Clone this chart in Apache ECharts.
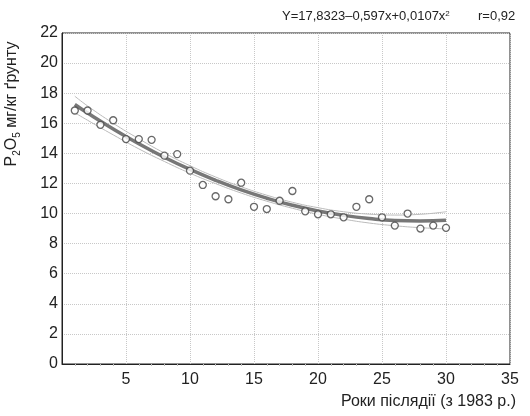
<!DOCTYPE html>
<html><head><meta charset="utf-8">
<script src="https://cdn.jsdelivr.net/npm/echarts@6/dist/echarts.min.js"></script>
<style>html,body{margin:0;padding:0;background:#fff}#c{width:530px;height:416px}</style>
</head><body><div id="c"></div>
<script>
var years = [1,2,3,4,5,6,7,8,9,10,11,12,13,14,15,16,17,18,19,20,21,22,23,24,25,26,27,28,29,30];
var p2o5 = [16.85,16.85,15.9,16.2,14.95,14.95,14.9,13.85,13.95,12.85,11.9,11.15,10.95,12.05,10.45,10.3,10.85,11.5,10.15,9.95,9.95,9.75,10.45,10.95,9.75,9.2,10.0,9.0,9.2,9.05];
var fitX = [1,2,4,6,8,10,12,14,16,18,20,22,24,26,28,30];
var fitY = [17.25,16.68,15.62,14.64,13.74,12.93,12.21,11.57,11.02,10.55,10.17,9.88,9.67,9.54,9.51,9.55];
var upperY = [17.8,17.15,16.0,14.97,14.02,13.18,12.43,11.78,11.22,10.75,10.39,10.12,9.96,9.9,9.95,10.12];
var lowerY = [16.7,16.2,15.23,14.3,13.46,12.68,11.99,11.36,10.82,10.35,9.95,9.63,9.37,9.19,9.06,8.98];
var yTicks = [0,2,4,6,8,10,12,14,16,18,20,22];
var xTicks = [5,10,15,20,25,30,35];
var equation = 'Y=17,8323–0,597x+0,0107x';
var rText = 'r=0,92';
var xName = 'Роки післядії (з 1983 р.)';

function pairs(xs, ys){ return xs.map(function(x,i){return [x, ys[i]];}); }
var F = 'Liberation Sans, Arial, sans-serif';
var chart = echarts.init(document.getElementById('c'));
chart.setOption({
  animation: false,
  grid: {left: 62, right: 20, top: 33, bottom: 52, show: true, borderColor: '#222', borderWidth: 1},
  xAxis: {
    type: 'value', min: 0, max: 35, interval: 5,
    axisLine: {show: true, lineStyle: {color: '#222'}},
    axisTick: {show: false},
    minorTick: {show: true, splitNumber: 5, length: 2, lineStyle: {color: '#bbb'}},
    axisLabel: {color: '#222', fontFamily: F, fontSize: 16, margin: 8, showMinLabel: false,
      formatter: function(v){ return xTicks.indexOf(v) >= 0 ? String(v) : ''; }},
    splitLine: {show: true, lineStyle: {color: '#c8c8c8', type: 'dotted'}}
  },
  yAxis: {
    type: 'value', min: 0, max: 22, interval: 2,
    axisLine: {show: true, lineStyle: {color: '#222'}},
    axisTick: {show: false},
    axisLabel: {color: '#222', fontFamily: F, fontSize: 16, margin: 4,
      formatter: function(v){ return yTicks.indexOf(v) >= 0 ? String(v) : ''; }},
    splitLine: {show: true, lineStyle: {color: '#c8c8c8', type: 'dotted'}}
  },
  series: [
    {type: 'line', data: pairs(fitX, upperY), smooth: true, symbol: 'none', lineStyle: {color: '#bbb', width: 1}, z: 2},
    {type: 'line', data: pairs(fitX, lowerY), smooth: true, symbol: 'none', lineStyle: {color: '#bbb', width: 1}, z: 2},
    {type: 'line', data: pairs(fitX, fitY), smooth: true, symbol: 'none', lineStyle: {color: '#777', width: 3.5}, z: 3},
    {type: 'scatter', data: pairs(years, p2o5), symbol: 'circle', symbolSize: 7,
      itemStyle: {color: '#fff', borderColor: '#444', borderWidth: 1.3}, z: 4}
  ],
  graphic: [
    {type: 'text', left: 282, top: 10, style: {text: '{a|' + equation + '}{s|2}', rich: {
      a: {fontFamily: F, fontSize: 13, fill: '#222'},
      s: {fontFamily: F, fontSize: 8, fill: '#222', verticalAlign: 'top', lineHeight: 10}}}},
    {type: 'text', left: 478, top: 10, style: {text: rText, fontFamily: F, fontSize: 13, fill: '#222'}},
    {type: 'text', right: 14, top: 394, style: {text: xName, fontFamily: F, fontSize: 16, fill: '#222'}},
    {type: 'text', x: 12, y: 104, rotation: Math.PI/2,
      style: {text: '{a|P}{s|2}{a|O}{s|5}{a| мг/кг ґрунту}', align: 'center', verticalAlign: 'middle', rich: {
        a: {fontFamily: F, fontSize: 16, fill: '#222', lineHeight: 20},
        s: {fontFamily: F, fontSize: 10, fill: '#222', lineHeight: 20, verticalAlign: 'bottom', padding: [8,0,0,0]}}}}
  ]
});
</script></body></html>
